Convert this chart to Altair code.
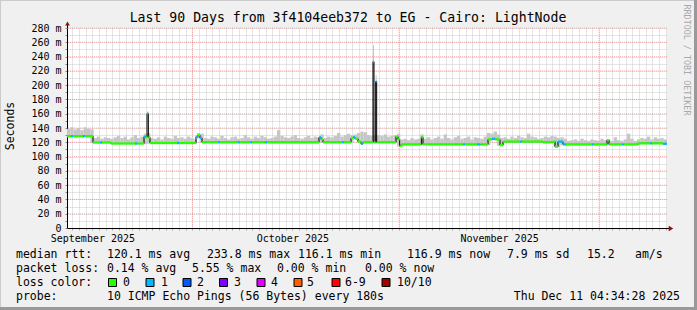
import altair as alt
import pandas as pd
import numpy as np

MONO = "DejaVu Sans Mono"
OX, OY = 67, 28          # plot origin inside the 697x310 page
W, H = 600, 200

START = pd.Timestamp("2025-09-12 04:34:28", tz="UTC")
START_MS = int(START.value // 10**6)
DAY_MS = 86400000
SPAN_DAYS = 90.0
END_MS = START_MS + int(SPAN_DAYS * DAY_MS)


def ms(d):
    return START_MS + d * DAY_MS


# ---------------- data ----------------
# median rtt segments: start day (from graph start), value in ms, lost pings
med_day = [0.0, 0.6, 0.9, 2.4, 2.7, 3.9, 4.95, 5.25, 6.6, 10.2, 10.5, 11.55, 11.85, 12.0, 12.2,
           12.45, 16.5, 16.8, 19.35, 19.65, 19.95, 20.25, 22.65, 22.95, 25.65, 25.95, 27.45, 27.75,
           29.7, 30.0, 37.8, 38.1, 38.4, 41.25, 41.55, 42.6, 42.9, 43.2, 43.65, 44.1, 44.4, 45.9,
           46.05, 46.3, 46.45, 49.35, 49.65, 49.9, 50.1, 53.15, 53.4, 59.4, 59.7, 61.5, 62.0, 63.15,
           63.75, 64.2, 64.95, 65.4, 67.95, 68.25, 71.4, 72.9, 73.2, 73.65, 74.4, 74.85, 78.75,
           79.05, 81.0, 81.3, 83.25, 83.5, 85.65, 87.45, 87.75, 89.4]
med_val = [128.5, 128.5, 128.5, 128.5, 128.5, 119.7, 119.7, 119.7, 118.3, 118.3, 118.3, 128, 127, 160, 127,
           119, 119, 119, 128, 130, 126, 120, 120, 120, 120, 120, 120, 120,
           120, 120, 127, 124, 120, 120, 120, 126, 127, 125, 121, 118, 120, 233,
           120, 205, 120, 128, 124, 115, 117, 127, 117, 117, 117, 117, 117, 124,
           125, 124, 116, 121, 121, 121, 120, 121, 114, 121, 117, 117, 117,
           117, 123, 117, 117, 117, 118.5, 118.5, 118.5, 118]
med_loss = [0, 1, 0, 1, 0, 0, 1, 0, 0, 1, 0, 1, 0, 1, 0,
            0, 1, 0, 1, 0, 1, 0, 1, 0, 1, 0, 1, 0,
            1, 0, 1, 0, 0, 1, 0, 0, 1, 0, 0, 1, 0, 1,
            0, 1, 0, 0, 0, 0, 0, 0, 0, 1, 0, 1, 0, 0,
            1, 0, 0, 0, 1, 0, 0, 0, 0, 1, 1, 0, 1,
            0, 0, 0, 1, 0, 0, 1, 0, 1]

# smoke (highest ping) per half day
smoke_top = ([139, 141, 138, 140, 137, 141, 139, 138]
             + [126, 128, 125, 127, 126]
             + [125, 127, 129, 126, 128, 124, 127, 130, 126, 128]
             + [132, 133]
             + [126, 125, 127, 124, 128, 126, 125, 129, 126, 127, 125, 128, 126, 124]
             + [133, 132]
             + [126, 125, 128, 127, 125, 129, 126, 124, 127, 128,
                125, 126, 130, 127, 125, 128, 126, 129, 127, 125,
                126, 128, 137, 129, 127, 126, 128, 130, 126, 125,
                127, 129, 126, 128, 127]
             + [131]
             + [126, 128, 127, 129, 133, 128, 130, 132, 130]
             + [131, 133, 135]
             + [134, 130, 129, 130]
             + [130, 129, 131, 128, 129, 130]
             + [132]
             + [124, 125, 123, 126, 124, 125, 131]
             + [125, 127, 124, 126, 128, 125, 131, 126, 124, 127,
                129, 125, 126, 128, 124, 127, 126, 125, 128]
             + [133, 132, 135, 131]
             + [126, 127, 125, 128, 126, 129, 127, 126, 132, 128,
                127, 125, 126, 128, 127, 129, 128]
             + [126, 127, 125]
             + [122, 123, 124, 122, 125, 123, 122, 124, 123, 122,
                125, 123, 124, 122, 127, 123, 122, 124, 132, 125, 122]
             + [124, 126, 125, 128, 124, 127, 125, 126, 124])
SMOKE_STEP = 0.5

# smoke above the spikes
spike_day = [12.0, 45.9, 46.3]
spike_top = [163, 256, 214]

loss_keys = [0, 1, 2, 3, 4, 5, 6, 10]
loss_labels = ["0", "1", "2", "3", "4", "5", "6-9", "10/10"]
loss_colors = ["#26ff00", "#00b8ff", "#0059ff", "#7e00ff", "#e000ff", "#ff5e00", "#ff0000", "#a10000"]

y_major = list(range(20, 281, 20))
y_minor = list(range(0, 281, 10))
month_starts = ["2025-10-01", "2025-11-01", "2025-12-01"]

title_text = "Last 90 Days from 3f4104eeb372 to EG - Cairo: LightNode"
row1 = [(16, "median rtt:"), (107, "120.1 ms avg"), (207, "233.8 ms max"), (298, "116.1 ms min"),
        (407, "116.9 ms now"), (507, "7.9 ms sd"), (587, "15.2"), (635, "am/s")]
row2 = [(16, "packet loss:"), (107, "0.14 % avg"), (192, "5.55 % max"), (277, "0.00 % min"),
        (365, "0.00 % now")]
row4 = [(16, "probe:"), (107, "10 ICMP Echo Pings (56 Bytes) every 180s")]
stamp = "Thu Dec 11 04:34:28 2025"
swatch_x = [112.5, 150, 187, 223.5, 261, 298, 336, 386]
swatch_label_x = [123, 161, 197, 234, 271, 307, 345, 397]

# ---------------- tables ----------------
seg_end = med_day[1:] + [SPAN_DAYS]
color_of = dict(zip(loss_keys, loss_colors))
band_df = pd.DataFrame({
    "t0": [ms(d) for d in med_day],
    "t1": [ms(d) for d in seg_end],
    "lo": [v - 1.6 for v in med_val],
    "hi": [v + 1.6 for v in med_val],
    "c": [color_of[l] for l in med_loss],
})
line_df = pd.DataFrame({
    "t": [ms(d) for d in med_day] + [END_MS],
    "v": med_val + [med_val[-1]],
})

sm_rows = []
for k, top in enumerate(smoke_top):
    a, b = k * SMOKE_STEP, (k + 1) * SMOKE_STEP
    vals = [v for d0, d1, v in zip(med_day, seg_end, med_val) if d0 < b and d1 > a]
    bot = min(vals) - 1
    sm_rows.append({"t0": ms(a), "t1": ms(b), "lo": bot, "hi": max(top, bot)})
for d, top in zip(spike_day, spike_top):
    i = med_day.index(d)
    sm_rows.append({"t0": ms(d), "t1": ms(seg_end[i]), "lo": med_val[i] - 2, "hi": top})
smoke_df = pd.DataFrame(sm_rows)

daily = pd.date_range("2025-09-13", "2025-12-11", freq="D", tz="UTC")
daily_ms = [int(t.value // 10**6) for t in daily]
mgrid_x = pd.DataFrame({"t": [int(pd.Timestamp(s, tz="UTC").value // 10**6) for s in month_starts]})
mgrid_y = pd.DataFrame({"v": y_major})
ONE = pd.DataFrame({"k": [0]})

# ---------------- scales / axes ----------------
GRID = "#b8b8b8"
xscale = alt.Scale(type="utc", domain=[START_MS, END_MS], nice=False)
yscale = alt.Scale(domain=[0, 280], nice=False, zero=True)
xaxis = alt.Axis(values=daily_ms, grid=True, gridColor=GRID, gridDash=[1, 1], gridOpacity=0.75,
                 labelExpr="utcdate(datum.value) == 16 ? utcFormat(datum.value, '%B %Y') : ''",
                 labelFont=MONO, labelFontSize=10, labelColor="#000000", labelOverlap=False,
                 labelFlush=False, labelPadding=3, labelAngle=0, tickSize=2, tickColor="#aaaaaa",
                 domainColor="#000000", title=None)
yaxis = alt.Axis(values=y_minor, grid=True, gridColor=GRID, gridDash=[1, 1], gridOpacity=0.75,
                 labelExpr="datum.value == 0 ? '0\u00a0\u00a0' : (datum.value % 20 == 0 ? datum.value + ' m' : '')",
                 labelFont=MONO, labelFontSize=10, labelColor="#000000", labelOverlap=False,
                 labelFlush=False, labelPadding=4, tickSize=2, tickColor="#888888",
                 domainColor="#000000", title=None)


def X(f):
    return alt.X(f, type="temporal", scale=xscale, axis=xaxis)


def Y(f):
    return alt.Y(f, type="quantitative", scale=yscale, axis=yaxis)


RED = "#e85050"
layers = []
layers.append(alt.Chart(mgrid_y).mark_rule(color=RED, opacity=0.4, strokeDash=[1, 1]).encode(y=Y("v")))
layers.append(alt.Chart(mgrid_x).mark_rule(color=RED, opacity=0.4, strokeDash=[1, 1]).encode(x=X("t")))
layers.append(alt.Chart(smoke_df).mark_rect(color="#c6c6c6").encode(x=X("t0"), x2="t1", y=Y("lo"), y2="hi"))
layers.append(alt.Chart(line_df).mark_line(interpolate="step-after", color="#000000", strokeWidth=1)
              .encode(x=X("t"), y=Y("v")))
layers.append(alt.Chart(band_df).mark_rect().encode(x=X("t0"), x2="t1", y=Y("lo"), y2="hi",
                                                    color=alt.Color("c:N", scale=None)))


def txt(s, ax, ay, size=11.5, align="left", angle=0, color="#000000"):
    return alt.Chart(ONE).mark_text(font=MONO, fontSize=size, align=align, baseline="middle",
                                    angle=angle, color=color).encode(
        x=alt.value(ax - OX), y=alt.value(ay - OY), text=alt.value(s))


def rule_h(x1, x2, y, color, w=1):
    return alt.Chart(ONE).mark_rule(color=color, strokeWidth=w).encode(
        x=alt.value(x1 - OX), x2=alt.value(x2 - OX), y=alt.value(y - OY))


def rule_v(x, y1, y2, color, w=1):
    return alt.Chart(ONE).mark_rule(color=color, strokeWidth=w).encode(
        x=alt.value(x - OX), y=alt.value(y1 - OY), y2=alt.value(y2 - OY))


# axis extensions and arrows
layers.append(rule_h(667, 671, 228.5, "#000000"))
layers.append(rule_v(67.5, 24, 28, "#000000"))
layers.append(alt.Chart(ONE).mark_point(shape="triangle-right", filled=True, size=28, color="#8b1010", opacity=1)
              .encode(x=alt.value(671 - OX), y=alt.value(228.5 - OY)))
layers.append(alt.Chart(ONE).mark_point(shape="triangle-up", filled=True, size=22, color="#8b1010", opacity=1)
              .encode(x=alt.value(67.5 - OX), y=alt.value(23.5 - OY)))

# frame
layers.append(rule_h(0, 697, 0.5, "#cbcbcb"))
layers.append(rule_v(0.5, 0, 310, "#cbcbcb"))
layers.append(rule_h(0, 697, 308.5, "#999999", 3))
layers.append(rule_v(695.5, 0, 310, "#999999", 3))

# titles
layers.append(txt(title_text, 348, 18, size=13.2, align="center"))
layers.append(txt("Seconds", 11, 126, size=11.5, align="center", angle=270))
layers.append(txt("RRDTOOL / TOBI OETIKER", 687, 60, size=8.4, align="center", angle=90, color="#a8a8a8"))

# legend
for x, s in row1:
    layers.append(txt(s, x, 254.5))
for x, s in row2:
    layers.append(txt(s, x, 268.5))
layers.append(txt("loss color:", 16, 282.5))
for sx, lx, lab, col in zip(swatch_x, swatch_label_x, loss_labels, loss_colors):
    layers.append(alt.Chart(ONE).mark_square(size=64, color=col, stroke="#000000", strokeWidth=1, opacity=1)
                  .encode(x=alt.value(sx - OX), y=alt.value(282.5 - OY)))
    layers.append(txt(lab, lx, 282.5))
for x, s in row4:
    layers.append(txt(s, x, 296.5))
layers.append(txt(stamp, 680, 296.5, align="right"))

chart = alt.layer(*layers).properties(
    width=W, height=H, background="#f0f0f0",
    padding={"left": OX, "top": OY, "right": 697 - OX - W, "bottom": 310 - OY - H},
    autosize=alt.AutoSizeParams(type="none"),
).configure_view(fill="#ffffff", stroke=None)

chart.save("out.html", embed_options={"renderer": "svg", "actions": False})
